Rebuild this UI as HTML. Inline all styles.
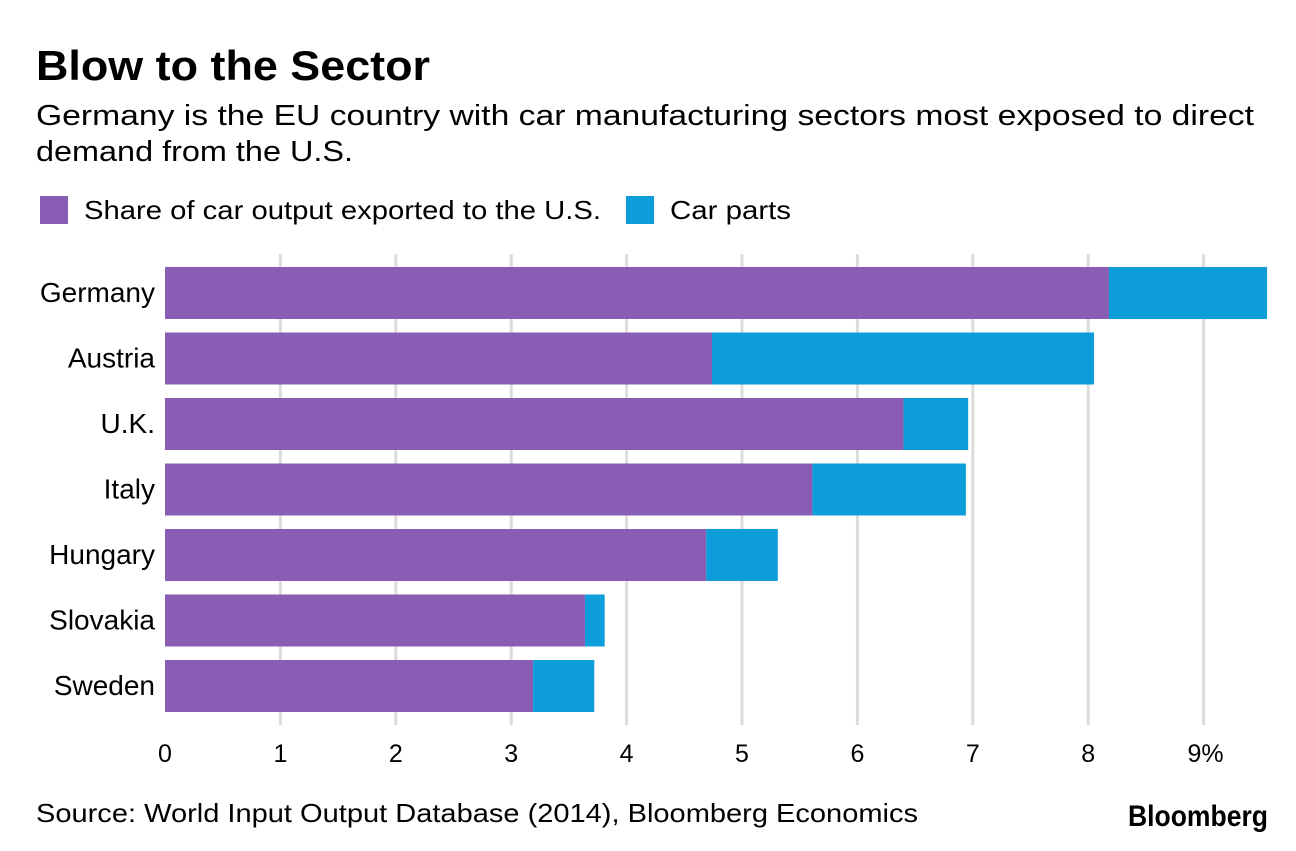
<!DOCTYPE html>
<html><head><meta charset="utf-8">
<style>
html,body{margin:0;padding:0;background:#fff;}
body{width:1296px;height:846px;overflow:hidden;font-family:"Liberation Sans",Arial,sans-serif;}
</style></head>
<body>
<svg id="chart" width="1296" height="846" xmlns="http://www.w3.org/2000/svg" font-family="Liberation Sans, Arial, sans-serif">
<text x="36" y="80" font-size="42" font-weight="bold" fill="#000" textLength="394" lengthAdjust="spacingAndGlyphs">Blow to the Sector</text>
<text x="36" y="125" font-size="29" fill="#000" textLength="1218" lengthAdjust="spacingAndGlyphs">Germany is the EU country with car manufacturing sectors most exposed to direct</text>
<text x="36" y="161" font-size="29" fill="#000" textLength="317" lengthAdjust="spacingAndGlyphs">demand from the U.S.</text>
<g>
<rect x="40" y="196" width="28" height="28" fill="#8a5db4"/>
<text x="84" y="219" font-size="26" fill="#000" textLength="517" lengthAdjust="spacingAndGlyphs">Share of car output exported to the U.S.</text>
<rect x="626" y="196" width="28" height="28" fill="#0e9ddb"/>
<text x="670" y="219" font-size="26" fill="#000" textLength="121" lengthAdjust="spacingAndGlyphs">Car parts</text>
</g>
<g id="grid"></g>
<g id="bars"></g>
<g id="ylabels"></g>
<g id="xlabels"></g>
<text x="36" y="822" font-size="26" fill="#000" textLength="882" lengthAdjust="spacingAndGlyphs">Source: World Input Output Database (2014), Bloomberg Economics</text>
<text x="1128" y="826" font-size="30" font-weight="bold" fill="#000" textLength="140" lengthAdjust="spacingAndGlyphs">Bloomberg</text>
</svg>
<script>
const countries = ["Germany","Austria","U.K.","Italy","Hungary","Slovakia","Sweden"];
const shareValues = [8.18,4.74,6.40,5.61,4.69,3.64,3.19];
const partsValues = [1.37,3.31,0.56,1.33,0.62,0.17,0.53];
const tickValues = [0,1,2,3,4,5,6,7,8,9];
const tickLabels = ["0","1","2","3","4","5","6","7","8","9%"];

const NS = "http://www.w3.org/2000/svg";
const x0 = 165, pxPer = 115.4;
function xScale(v){ return x0 + v*pxPer; }
const top0 = 267, pitch = 65.5, bh = 52;
function yScale(i){ return top0 + i*pitch; }
function mk(tag, attrs, parent){
  const el = document.createElementNS(NS, tag);
  for (const k in attrs) el.setAttribute(k, attrs[k]);
  parent.appendChild(el); return el;
}
const grid = document.getElementById('grid');
const bars = document.getElementById('bars');
const yl = document.getElementById('ylabels');
const xl = document.getElementById('xlabels');
tickValues.forEach((t, i) => {
  if (t > 0) {
    const ln = mk('line', {x1: xScale(t), x2: xScale(t), y1: 254, y2: 725, stroke: '#dcdcdc', 'stroke-width': 3}, grid);
    
    
  }
  const tx = mk('text', {x: xScale(t) + (t === 9 ? 2 : 0), y: 762, 'font-size': 25, 'text-anchor': 'middle', fill: '#000'}, xl);
  tx.textContent = tickLabels[i];
  
  
});
countries.forEach((c, i) => {
  const y = yScale(i);
  const r1 = mk('rect', {x: xScale(0), y: y, width: xScale(shareValues[i]) - xScale(0), height: bh, fill: '#8a5db4'}, bars);
  
  
  const r2 = mk('rect', {x: xScale(shareValues[i]), y: y, width: xScale(shareValues[i] + partsValues[i]) - xScale(shareValues[i]), height: bh, fill: '#0e9ddb'}, bars);
  
  
  const lb = mk('text', {x: 155, y: y + bh/2 + 9, 'font-size': 28, 'text-anchor': 'end', fill: '#000'}, yl);
  lb.textContent = c;
  
  
});
</script>
</body></html>
